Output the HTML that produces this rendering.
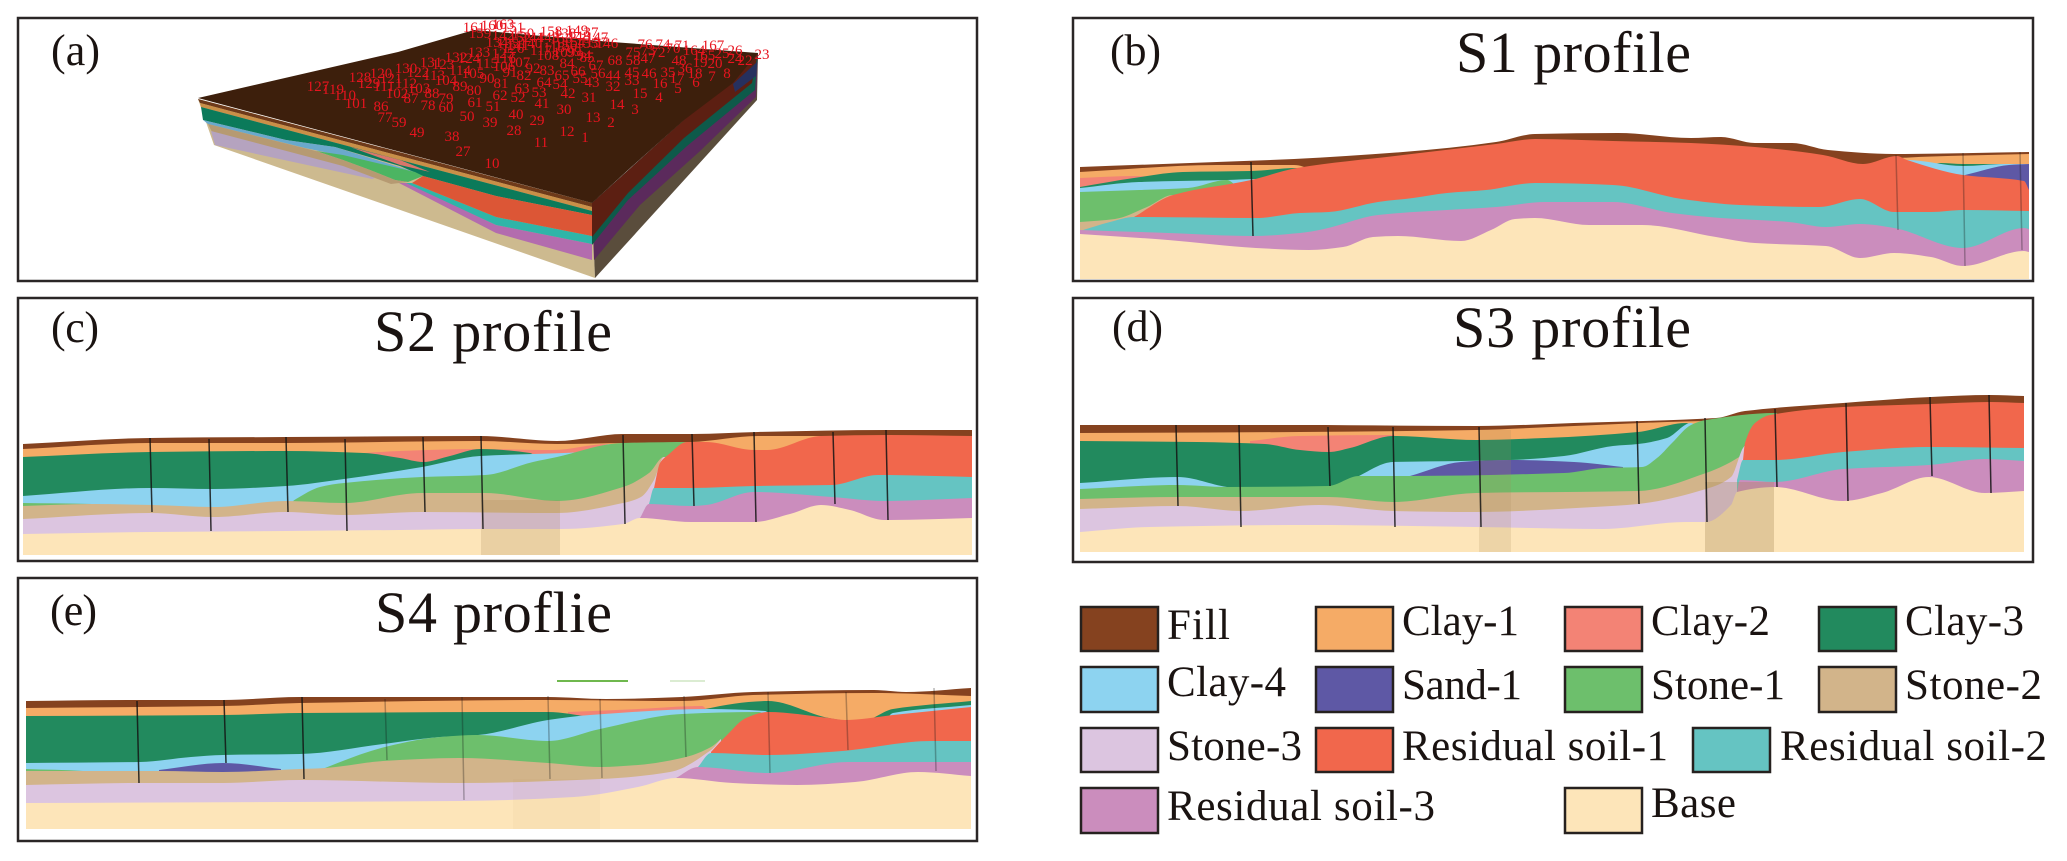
<!DOCTYPE html>
<html lang="en">
<head>
<meta charset="utf-8">
<title>Geological model and profiles</title>
<style>
html,body{margin:0;padding:0;background:#fff;width:2067px;height:861px;overflow:hidden}
svg{display:block}
text{font-family:"Liberation Serif",serif;fill:#1a1311}
.num text{fill:#e8141f;font-size:15px;text-anchor:middle}
.frame{fill:none;stroke:#2a2626;stroke-width:2.5}
.swatch{stroke:#26211f;stroke-width:2.5}
.legend-text{font-size:43px}
.panel-label{font-size:44px}
.title{font-size:58px}
</style>
</head>
<body>
<svg id="figure" xmlns="http://www.w3.org/2000/svg" width="2067" height="861" viewBox="0 0 2067 861">
<rect x="0" y="0" width="2067" height="861" fill="#fff"/>

<g>
<polygon fill="#cdba8f" points="198,99 592,203 595,278 214,145"/>
<polygon fill="#5a4d3c" points="592,203 758,53 757,100 595,278"/>
<polygon fill="#5b2a5c" points="592,203 758,53 756,97 699,152 640,205 594,260"/>
<polygon fill="#0e5a4a" points="592,203 758,53 755,90 687,146 628,200 592,245"/>
<polygon fill="#5c1f12" points="592,203 758,53 752,83 684,138 628,193 592,237"/>
<polygon fill="#6e3a1a" points="198,99 592,203 592,207 200,103"/>
<polygon fill="#c98f48" points="200,103 592,207 592,211 201,107"/>
<polygon fill="#0b7a5a" points="201,107 592,211 592,215 496,196 423,176 400,166 335,147 286,140 203,120"/>
<polygon fill="#6aa9cc" points="203,120 286,140 335,147 415,172 343,156 305,148 208,124"/>
<polygon fill="#d9766a" points="350,147 400,160 430,172 400,165"/>
<polygon fill="#4cb562" points="316,151 343,155 415,172 423,176 408,182 395,180 370,170 343,160"/>
<polygon fill="#b69a72" points="208,124 316,151 343,160 370,170 395,180 408,182 391,184 375,178 343,168 213,134"/>
<polygon fill="#b5a3bf" points="211,131 343,166 375,178 372,179 215,145"/>
<polygon fill="#b36cae" points="399,183 408,183 496,225 592,244 592,260 496,233"/>
<polygon fill="#2fb5a8" points="406,183 412,183 496,217 592,236 592,244 496,225"/>
<polygon fill="#dc5636" points="412,183 423,176 496,196 592,215 592,236 496,217"/>
<polygon fill="#3d1f0c" points="198,98 398,52 474,30 612,42 758,53 733,83 684,120 628,170 592,203"/>
<polygon fill="#26305e" points="733,84 757,62 756,76 735,92"/>
<g class="num">
<text x="492" y="168">10</text>
<text x="463" y="156">27</text>
<text x="452" y="141">38</text>
<text x="417" y="137">49</text>
<text x="399" y="127">59</text>
<text x="385" y="122">77</text>
<text x="381" y="111">86</text>
<text x="356" y="108">101</text>
<text x="345" y="100">110</text>
<text x="333" y="94">119</text>
<text x="318" y="91">127</text>
<text x="360" y="82">128</text>
<text x="369" y="88">129</text>
<text x="384" y="91">111</text>
<text x="381" y="78">120</text>
<text x="391" y="83">121</text>
<text x="406" y="88">112</text>
<text x="397" y="98">102</text>
<text x="411" y="103">87</text>
<text x="419" y="93">103</text>
<text x="432" y="98">88</text>
<text x="428" y="110">78</text>
<text x="446" y="112">60</text>
<text x="446" y="103">79</text>
<text x="460" y="91">89</text>
<text x="474" y="95">80</text>
<text x="475" y="107">61</text>
<text x="467" y="121">50</text>
<text x="493" y="111">51</text>
<text x="500" y="100">62</text>
<text x="490" y="127">39</text>
<text x="514" y="135">28</text>
<text x="516" y="119">40</text>
<text x="518" y="102">52</text>
<text x="522" y="93">63</text>
<text x="501" y="88">81</text>
<text x="487" y="83">90</text>
<text x="446" y="85">104</text>
<text x="434" y="80">113</text>
<text x="418" y="77">122</text>
<text x="406" y="73">130</text>
<text x="473" y="78">105</text>
<text x="460" y="75">114</text>
<text x="443" y="69">123</text>
<text x="431" y="67">131</text>
<text x="456" y="62">132</text>
<text x="469" y="63">124</text>
<text x="479" y="57">133</text>
<text x="487" y="68">115</text>
<text x="504" y="71">106</text>
<text x="510" y="77">91</text>
<text x="524" y="80">82</text>
<text x="539" y="97">53</text>
<text x="542" y="108">41</text>
<text x="537" y="125">29</text>
<text x="541" y="147">11</text>
<text x="567" y="136">12</text>
<text x="585" y="142">1</text>
<text x="593" y="122">13</text>
<text x="611" y="127">2</text>
<text x="635" y="114">3</text>
<text x="617" y="109">14</text>
<text x="564" y="114">30</text>
<text x="568" y="98">42</text>
<text x="589" y="102">31</text>
<text x="640" y="98">15</text>
<text x="659" y="102">4</text>
<text x="544" y="87">64</text>
<text x="560" y="89">54</text>
<text x="562" y="80">65</text>
<text x="580" y="83">55</text>
<text x="592" y="87">43</text>
<text x="613" y="91">32</text>
<text x="632" y="85">33</text>
<text x="660" y="88">16</text>
<text x="678" y="93">5</text>
<text x="547" y="75">83</text>
<text x="533" y="73">92</text>
<text x="519" y="67">107</text>
<text x="505" y="63">116</text>
<text x="567" y="68">84</text>
<text x="578" y="76">66</text>
<text x="598" y="78">56</text>
<text x="596" y="70">67</text>
<text x="613" y="80">44</text>
<text x="632" y="77">45</text>
<text x="649" y="78">46</text>
<text x="668" y="77">35</text>
<text x="677" y="83">17</text>
<text x="695" y="78">18</text>
<text x="696" y="87">6</text>
<text x="712" y="81">7</text>
<text x="727" y="78">8</text>
<text x="685" y="73">36</text>
<text x="762" y="59">23</text>
<text x="735" y="55">26</text>
<text x="713" y="50">167</text>
<text x="682" y="50">71</text>
<text x="645" y="49">76</text>
<text x="663" y="49">74</text>
<text x="474" y="32">161</text>
<text x="492" y="30">160</text>
<text x="503" y="29">163</text>
<text x="513" y="32">151</text>
<text x="523" y="38">150</text>
<text x="551" y="36">158</text>
<text x="565" y="38">138</text>
<text x="577" y="35">149</text>
<text x="591" y="37">37</text>
<text x="480" y="38">159</text>
<text x="503" y="40">142</text>
<text x="520" y="42">152</text>
<text x="533" y="42">144</text>
<text x="548" y="42">143</text>
<text x="561" y="43">153</text>
<text x="579" y="41">148</text>
<text x="597" y="42">147</text>
<text x="607" y="48">146</text>
<text x="497" y="47">134</text>
<text x="508" y="48">135</text>
<text x="518" y="50">141</text>
<text x="531" y="48">140</text>
<text x="574" y="47">154</text>
<text x="587" y="48">155</text>
<text x="566" y="50">156</text>
<text x="597" y="47">157</text>
<text x="541" y="55">117</text>
<text x="554" y="52">118</text>
<text x="548" y="60">108</text>
<text x="564" y="57">109</text>
<text x="574" y="56">99</text>
<text x="584" y="60">94</text>
<text x="587" y="62">85</text>
<text x="503" y="58">125</text>
<text x="513" y="53">126</text>
<text x="633" y="57">75</text>
<text x="633" y="65">58</text>
<text x="615" y="65">68</text>
<text x="648" y="63">47</text>
<text x="679" y="65">48</text>
<text x="673" y="53">70</text>
<text x="658" y="57">72</text>
<text x="648" y="55">73</text>
<text x="735" y="63">24</text>
<text x="722" y="58">25</text>
<text x="704" y="60">165</text>
<text x="694" y="55">164</text>
<text x="700" y="67">19</text>
<text x="715" y="68">20</text>
<text x="745" y="65">22</text>
</g>
</g>

<g id="s1-plot"></g>
<g id="s2-plot"></g>
<g id="s3-plot"></g>
<g id="s4-plot"></g>

<line x1="557" y1="681" x2="628" y2="681" stroke="#6fb84e" stroke-width="2"/>
<line x1="670" y1="681" x2="705" y2="681" stroke="#cfe6c4" stroke-width="1.5"/>

<rect class="frame" x="18" y="18" width="959" height="263"/>
<rect class="frame" x="1073" y="18" width="960" height="263"/>
<rect class="frame" x="18" y="298" width="959" height="263"/>
<rect class="frame" x="1073" y="298" width="960" height="264"/>
<rect class="frame" x="18" y="578" width="959" height="263"/>

<text class="panel-label" x="51" y="65" textLength="49">(a)</text>
<text class="panel-label" x="1110" y="65" textLength="51">(b)</text>
<text class="panel-label" x="51" y="342" textLength="48">(c)</text>
<text class="panel-label" x="1112" y="341" textLength="51">(d)</text>
<text class="panel-label" x="50" y="625" textLength="47">(e)</text>

<text class="title" x="1456" y="72" textLength="235">S1 profile</text>
<text class="title" x="374" y="351" textLength="238">S2 profile</text>
<text class="title" x="1453" y="347" textLength="238">S3 profile</text>
<text class="title" x="375" y="632" textLength="237">S4 proflie</text>

<g>
<g><rect class="swatch" x="1081" y="607" width="77" height="44" fill="#85421f"/><text class="legend-text" x="1167" y="639" textLength="63">Fill</text></g>
<g><rect class="swatch" x="1316" y="607" width="77" height="44" fill="#f5ab66"/><text class="legend-text" x="1402" y="635" textLength="117">Clay-1</text></g>
<g><rect class="swatch" x="1565" y="607" width="77" height="44" fill="#f38375"/><text class="legend-text" x="1651" y="635" textLength="119">Clay-2</text></g>
<g><rect class="swatch" x="1819" y="607" width="77" height="44" fill="#228a5e"/><text class="legend-text" x="1905" y="635" textLength="119">Clay-3</text></g>
<g><rect class="swatch" x="1081" y="667" width="77" height="45" fill="#8dd3f0"/><text class="legend-text" x="1167" y="696" textLength="119">Clay-4</text></g>
<g><rect class="swatch" x="1316" y="667" width="77" height="45" fill="#5e58a5"/><text class="legend-text" x="1402" y="699" textLength="120">Sand-1</text></g>
<g><rect class="swatch" x="1565" y="667" width="77" height="45" fill="#6dbf6c"/><text class="legend-text" x="1651" y="699" textLength="134">Stone-1</text></g>
<g><rect class="swatch" x="1819" y="667" width="77" height="45" fill="#d2b48a"/><text class="legend-text" x="1905" y="699" textLength="137">Stone-2</text></g>
<g><rect class="swatch" x="1081" y="728" width="77" height="44" fill="#dcc5e0"/><text class="legend-text" x="1167" y="760" textLength="135">Stone-3</text></g>
<g><rect class="swatch" x="1316" y="728" width="77" height="44" fill="#f1674c"/><text class="legend-text" x="1402" y="760" textLength="266">Residual soil-1</text></g>
<g><rect class="swatch" x="1693" y="728" width="77" height="44" fill="#65c4c2"/><text class="legend-text" x="1780" y="760" textLength="267">Residual soil-2</text></g>
<g><rect class="swatch" x="1081" y="788" width="77" height="45" fill="#cb8dbd"/><text class="legend-text" x="1167" y="820" textLength="268">Residual soil-3</text></g>
<g><rect class="swatch" x="1565" y="788" width="77" height="45" fill="#fde5b9"/><text class="legend-text" x="1651" y="817" textLength="85">Base</text></g>
</g>
</svg>

<script>
/* ---------- S1 profile: distance along section and top-of-layer elevation ---------- */
const s1FillDist=[0,137,214,323,416,455,538,611,641,675,712,748,814,949];
const s1FillElev=[113,118,121,128,138,146,147,142,143,137,137,130,126,128];
const s1Clay1Dist=[0,137,214,250,800,820,949];
const s1Clay1Elev=[108,115,115,105,105,122,126];
const s1Clay2Dist=[0,54,100];
const s1Clay2Elev=[102,104,100];
const s1Clay3Dist=[0,54,103,171,217,250,820,860,883,924,940];
const s1Clay3Elev=[93,102,108,109,112,90,90,117,116,116,105];
const s1Clay4Dist=[0,59,147,176,210,800,827,883,924,949];
const s1Clay4Elev=[92,98,100,101,90,90,120,114,116,116];
const s1Sand1Dist=[885,929,949];
const s1Sand1Elev=[105,115,116];
const s1Stone1Dist=[0,59,108,147,160];
const s1Stone1Elev=[88,90,92,100,90];
const s1Stone2Dist=[0,35,67,93,110];
const s1Stone2Elev=[58,61,73,85,80];
const s1Res1Dist=[54,93,171,217,323,416,455,533,611,675,743,783,817,827,883,944,949];
const s1Res1Elev=[63,85,100,112,125,136,141,139,137,133,125,116,124,120,105,99,90];
const s1Res2Dist=[0,30,54,176,220,249,298,333,367,406,455,533,602,660,739,780,814,851,883,949];
const s1Res2Elev=[49,58,63,62,67,68,78,82,87,90,97,95,81,75,73,81,68,68,70,69];
const s1Res3Dist=[0,88,173,220,244,298,367,416,465,533,592,641,709,746,780,814,883,944,949];
const s1Res3Elev=[50,47,44,47,51,65,70,73,78,78,67,62,58,53,56,52,32,52,51];
const s1BaseDist=[0,88,176,229,263,293,318,381,411,435,455,509,562,636,675,746,780,814,851,883,944,949];
const s1BaseElev=[46,40,32,30,33,43,44,39,50,61,62,55,55,43,37,34,22,27,23,14,29,28];
const s1WellDist=[171,816,883,940];
const s1WellTop=[118,125,127,128];
const s1WellBottom=[44,50,14,30];

/* ---------- S2 profile ---------- */
const s2FillDist=[0,127,263,457,534,600,670,735,865,949];
const s2FillElev=[111,117,118,119,114,121,121,123,125,125];
const s2Clay1Dist=[0,127,263,457,534,600,668,735,809,827,949];
const s2Clay1Elev=[106,112,112,114,111,112,113,119,119,110,110];
const s2Clay2Dist=[341,377,457,530,584,592];
const s2Clay2Elev=[102,104,106,105,111,100];
const s2Clay3Dist=[0,127,263,341,377,400,427,457,507,517];
const s2Clay3Elev=[98,103,104,102,97,93,99,106,102,95];
const s2Clay4Dist=[0,127,190,263,321,399,457,510,559,588,602];
const s2Clay4Elev=[59,67,66,69,76,88,99,101,103,111,105];
const s2Stone1Dist=[0,69,127,257,273,297,321,399,462,510,534,588,600,668,677];
const s2Stone1Elev=[52,51,45,45,56,68,72,78,80,93,98,111,112,113,105];
const s2Stone2Dist=[0,69,130,190,263,321,399,462,534,600,626,641,647];
const s2Stone2Elev=[49,51,50,48,54,52,62,62,54,68,82,98,95];
const s2Stone3Dist=[0,127,190,263,321,399,534,600,618,631,641,647];
const s2Stone3Elev=[36,42,38,43,40,43,42,52,58,75,98,95];
const s2Res1Dist=[631,637,645,664,683,731,744,798,865,949];
const s2Res1Elev=[67,92,100,113,113,105,105,119,120,119];
const s2Res2Dist=[626,631,668,731,809,855,949];
const s2Res2Elev=[51,67,67,69,70,80,78];
const s2Res3Dist=[617,626,668,683,731,809,861,949];
const s2Res3Elev=[37,51,49,50,63,58,54,57];
const s2BaseDist=[0,127,263,377,457,538,600,617,668,731,767,798,827,861,949];
const s2BaseElev=[21,23,24,25,26,26,31,37,33,33,41,50,45,35,37];
const s2WellDist=[127,186,263,322,400,458,600,669,731,810,863];
const s2WellTop=[117,116,118,116,118,119,120,121,123,123,125];
const s2WellBottom=[43,24,43,24,43,26,31,49,33,51,35];

/* ---------- S3 profile ---------- */
const s3FillDist=[0,220,396,494,636,665,763,851,910,944];
const s3FillElev=[127,127,126,129,134,141,149,155,157,156];
const s3Clay1Dist=[0,220,396,494,636,645];
const s3Clay1Elev=[119,120,122,126,131,124];
const s3Clay2Dist=[170,220,313,320];
const s3Clay2Elev=[111,116,117,112];
const s3Clay3Dist=[0,117,185,220,249,270,313,396,465,558,606,620];
const s3Clay3Elev=[111,110,108,102,100,104,116,112,114,120,129,122];
const s3Clay4Dist=[0,98,147,220,249,279,313,381,430,484,533,558,587,611,620];
const s3Clay4Elev=[69,75,65,57,57,76,90,91,92,96,106,108,114,129,122];
const s3Sand1Dist=[330,381,430,494,543];
const s3Sand1Elev=[76,90,92,90,85];
const s3Stone1Dist=[0,98,147,248,279,328,484,523,562,577,592,611,626,695,705];
const s3Stone1Elev=[63,67,65,66,76,76,79,84,85,94,109,127,132,139,132];
const s3Stone2Dist=[0,98,161,249,313,396,558,626,665,680,690];
const s3Stone2Elev=[53,55,55,55,50,59,61,79,99,117,122];
const s3Stone3Dist=[0,98,161,239,313,396,514,558,626,651,663,670];
const s3Stone3Elev=[43,46,41,47,41,40,45,48,63,75,104,112];
const s3Res1Dist=[663,665,675,690,763,851,910,944];
const s3Res1Elev=[92,109,129,137,145,148,150,149];
const s3Res2Dist=[657,663,695,763,849,944];
const s3Res2Elev=[72,92,92,100,105,104];
const s3Res3Dist=[657,660,695,763,849,905,944];
const s3Res3Elev=[60,72,70,83,87,93,91];
const s3BaseDist=[0,69,229,396,523,606,626,651,657,695,763,802,849,905,944];
const s3BaseElev=[20,25,27,25,23,30,30,47,60,65,51,59,75,59,61];
const s3WellDist=[96,159,248,313,399,557,625,695,766,850,909];
const s3WellTop=[127,127,125,125,125,131,134,143,149,155,157];
const s3WellBottom=[46,25,66,25,25,48,30,65,51,76,59];

/* ---------- S4 profile ---------- */
const s4FillDist=[0,114,197,274,522,580,656,727,848,880,945];
const s4FillElev=[128,129,129,132,132,130,132,137,139,137,141];
const s4Clay1Dist=[0,197,274,522,656,727,848,945];
const s4Clay1Elev=[121,123,126,129,128,134,136,133];
const s4Clay2Dist=[542,612,676,684];
const s4Clay2Elev=[117,120,123,114];
const s4Clay3Dist=[0,197,274,522,564,584,669,679,742,803,834,867,945];
const s4Clay3Elev=[113,114,116,117,112,109,114,120,128,111,107,120,128];
const s4Clay4Dist=[0,114,165,197,274,357,414,452,522,564,682,739,749,854,867,945];
const s4Clay4Elev=[66,67,72,74,75,85,92,94,109,114,120,118,109,104,116,124];
const s4Sand1Dist=[133,197,255];
const s4Sand1Elev=[59,66,60];
const s4Stone1Dist=[0,57,84,274,299,363,414,452,522,574,656,733,744];
const s4Stone1Elev=[60,58,49,49,61,83,92,94,88,100,115,117,109];
const s4Stone2Dist=[0,133,197,274,299,357,433,522,574,612,660,685,695];
const s4Stone2Elev=[58,58,57,60,61,68,71,66,62,64,72,82,90];
const s4Stone3Dist=[0,114,197,274,433,574,644,685,695];
const s4Stone3Elev=[44,46,46,49,46,50,57,79,90];
const s4Res1Dist=[685,701,720,742,803,819,867,945];
const s4Res1Elev=[77,94,111,117,111,109,114,122];
const s4Res2Dist=[672,685,742,816,905,945];
const s4Res2Elev=[62,76,74,78,88,88];
const s4Res3Dist=[650,672,742,822,905,945];
const s4Res3Elev=[51,62,56,67,67,67];
const s4BaseDist=[0,433,548,612,650,707,771,829,892,945];
const s4BaseElev=[26,28,32,42,51,46,44,47,57,53];
const s4WellDist=[111,198,276,359,436,522,574,658,742,820,908];
const s4WellTop=[128,129,132,130,132,133,130,133,137,137,141];
const s4WellBottom=[46,66,50,69,29,50,51,72,56,79,58];

/* ---------- layer colours ---------- */
const layerColors={fill:'#85421f','clay-1':'#f5ab66','clay-2':'#f38375','clay-3':'#228a5e','clay-4':'#8dd3f0','sand-1':'#5e58a5','stone-1':'#6dbf6c','stone-2':'#d2b48a','stone-3':'#dcc5e0','residual-soil-1':'#f1674c','residual-soil-2':'#65c4c2','residual-soil-3':'#cb8dbd',base:'#fde5b9'};

const NS='http://www.w3.org/2000/svg';

function xAxis(frame,dist){return frame.left+dist;}
function yAxis(frame,elev){return frame.bottom-elev;}

/* monotone cubic through a boundary: smooth curves without overshoot at pinch-outs */
function boundaryCurve(xs,ys){
  const n=xs.length, sec=[], tan=[];
  for(let i=0;i<n-1;i++){sec.push((ys[i+1]-ys[i])/(xs[i+1]-xs[i]));}
  for(let i=0;i<n;i++){
    if(i===0){tan.push(sec[0]);}
    else if(i===n-1){tan.push(sec[n-2]);}
    else if(sec[i-1]*sec[i]<=0){tan.push(0);}
    else{tan.push(2*sec[i-1]*sec[i]/(sec[i-1]+sec[i]));}
  }
  let d='';
  for(let i=0;i<n-1;i++){
    const h=(xs[i+1]-xs[i])/3;
    d+=' C'+(xs[i]+h).toFixed(1)+','+(ys[i]+tan[i]*h).toFixed(1)+' '+(xs[i+1]-h).toFixed(1)+','+(ys[i+1]-tan[i+1]*h).toFixed(1)+' '+xs[i+1].toFixed(1)+','+ys[i+1].toFixed(1);
  }
  return d;
}

function drawLayer(group,frame,key,dist,elev){
  const xs=dist.map(function(v){return xAxis(frame,v);});
  const ys=elev.map(function(v){return yAxis(frame,v);});
  const floorY=yAxis(frame,frame.floor);
  const d='M'+xs[0]+','+floorY+' L'+xs[0]+','+ys[0]+boundaryCurve(xs,ys)+' L'+xs[xs.length-1]+','+floorY+' Z';
  const el=document.createElementNS(NS,'path');
  
  
  el.setAttribute('d',d);
  el.setAttribute('fill',layerColors[key]);
  group.appendChild(el);
}

function drawWells(group,frame,dist,top,bottom){
  for(let i=0;i<dist.length;i++){
    const el=document.createElementNS(NS,'line');
    
    
    el.setAttribute('x1',xAxis(frame,dist[i]));
    el.setAttribute('y1',yAxis(frame,top[i]));
    el.setAttribute('x2',xAxis(frame,dist[i])+2);
    el.setAttribute('y2',yAxis(frame,bottom[i]));
    el.setAttribute('stroke','#141414');
    el.setAttribute('stroke-width','1.5');
    el.setAttribute('stroke-opacity',i<frame.darkWells?'0.85':'0.3');
    group.appendChild(el);
  }
}

function drawShade(group,frame,d0,d1,elevTop,alpha){
  const el=document.createElementNS(NS,'rect');
  
  
  el.setAttribute('x',xAxis(frame,d0));
  el.setAttribute('y',yAxis(frame,elevTop));
  el.setAttribute('width',d1-d0);
  el.setAttribute('height',elevTop-frame.floor);
  el.setAttribute('fill','#a88a58');
  el.setAttribute('fill-opacity',alpha);
  group.appendChild(el);
}

const s1Frame={name:'s1',left:1080,bottom:280,floor:1,darkWells:1};
const s2Frame={name:'s2',left:23,bottom:555,floor:0,darkWells:11};
const s3Frame={name:'s3',left:1080,bottom:552,floor:0,darkWells:11};
const s4Frame={name:'s4',left:26,bottom:829,floor:0,darkWells:3};

const s1Group=document.getElementById('s1-plot');
drawLayer(s1Group,s1Frame,'fill',s1FillDist,s1FillElev);
drawLayer(s1Group,s1Frame,'clay-1',s1Clay1Dist,s1Clay1Elev);
drawLayer(s1Group,s1Frame,'clay-2',s1Clay2Dist,s1Clay2Elev);
drawLayer(s1Group,s1Frame,'clay-3',s1Clay3Dist,s1Clay3Elev);
drawLayer(s1Group,s1Frame,'clay-4',s1Clay4Dist,s1Clay4Elev);
drawLayer(s1Group,s1Frame,'sand-1',s1Sand1Dist,s1Sand1Elev);
drawLayer(s1Group,s1Frame,'stone-1',s1Stone1Dist,s1Stone1Elev);
drawLayer(s1Group,s1Frame,'stone-2',s1Stone2Dist,s1Stone2Elev);
drawLayer(s1Group,s1Frame,'residual-soil-1',s1Res1Dist,s1Res1Elev);
drawLayer(s1Group,s1Frame,'residual-soil-2',s1Res2Dist,s1Res2Elev);
drawLayer(s1Group,s1Frame,'residual-soil-3',s1Res3Dist,s1Res3Elev);
drawLayer(s1Group,s1Frame,'base',s1BaseDist,s1BaseElev);
drawWells(s1Group,s1Frame,s1WellDist,s1WellTop,s1WellBottom);

const s2Group=document.getElementById('s2-plot');
drawLayer(s2Group,s2Frame,'fill',s2FillDist,s2FillElev);
drawLayer(s2Group,s2Frame,'clay-1',s2Clay1Dist,s2Clay1Elev);
drawLayer(s2Group,s2Frame,'clay-2',s2Clay2Dist,s2Clay2Elev);
drawLayer(s2Group,s2Frame,'clay-3',s2Clay3Dist,s2Clay3Elev);
drawLayer(s2Group,s2Frame,'clay-4',s2Clay4Dist,s2Clay4Elev);
drawLayer(s2Group,s2Frame,'stone-1',s2Stone1Dist,s2Stone1Elev);
drawLayer(s2Group,s2Frame,'stone-2',s2Stone2Dist,s2Stone2Elev);
drawLayer(s2Group,s2Frame,'stone-3',s2Stone3Dist,s2Stone3Elev);
drawLayer(s2Group,s2Frame,'residual-soil-1',s2Res1Dist,s2Res1Elev);
drawLayer(s2Group,s2Frame,'residual-soil-2',s2Res2Dist,s2Res2Elev);
drawLayer(s2Group,s2Frame,'residual-soil-3',s2Res3Dist,s2Res3Elev);
drawLayer(s2Group,s2Frame,'base',s2BaseDist,s2BaseElev);
drawShade(s2Group,s2Frame,458,537,55,0.22);
drawWells(s2Group,s2Frame,s2WellDist,s2WellTop,s2WellBottom);

const s3Group=document.getElementById('s3-plot');
drawLayer(s3Group,s3Frame,'fill',s3FillDist,s3FillElev);
drawLayer(s3Group,s3Frame,'clay-1',s3Clay1Dist,s3Clay1Elev);
drawLayer(s3Group,s3Frame,'clay-2',s3Clay2Dist,s3Clay2Elev);
drawLayer(s3Group,s3Frame,'clay-3',s3Clay3Dist,s3Clay3Elev);
drawLayer(s3Group,s3Frame,'clay-4',s3Clay4Dist,s3Clay4Elev);
drawLayer(s3Group,s3Frame,'sand-1',s3Sand1Dist,s3Sand1Elev);
drawLayer(s3Group,s3Frame,'stone-1',s3Stone1Dist,s3Stone1Elev);
drawLayer(s3Group,s3Frame,'stone-2',s3Stone2Dist,s3Stone2Elev);
drawLayer(s3Group,s3Frame,'stone-3',s3Stone3Dist,s3Stone3Elev);
drawLayer(s3Group,s3Frame,'residual-soil-1',s3Res1Dist,s3Res1Elev);
drawLayer(s3Group,s3Frame,'residual-soil-2',s3Res2Dist,s3Res2Elev);
drawLayer(s3Group,s3Frame,'residual-soil-3',s3Res3Dist,s3Res3Elev);
drawLayer(s3Group,s3Frame,'base',s3BaseDist,s3BaseElev);
drawShade(s3Group,s3Frame,399,431,122,0.18);
drawShade(s3Group,s3Frame,625,694,70,0.32);
drawWells(s3Group,s3Frame,s3WellDist,s3WellTop,s3WellBottom);

const s4Group=document.getElementById('s4-plot');
drawLayer(s4Group,s4Frame,'fill',s4FillDist,s4FillElev);
drawLayer(s4Group,s4Frame,'clay-1',s4Clay1Dist,s4Clay1Elev);
drawLayer(s4Group,s4Frame,'clay-2',s4Clay2Dist,s4Clay2Elev);
drawLayer(s4Group,s4Frame,'clay-3',s4Clay3Dist,s4Clay3Elev);
drawLayer(s4Group,s4Frame,'clay-4',s4Clay4Dist,s4Clay4Elev);
drawLayer(s4Group,s4Frame,'sand-1',s4Sand1Dist,s4Sand1Elev);
drawLayer(s4Group,s4Frame,'stone-1',s4Stone1Dist,s4Stone1Elev);
drawLayer(s4Group,s4Frame,'stone-2',s4Stone2Dist,s4Stone2Elev);
drawLayer(s4Group,s4Frame,'stone-3',s4Stone3Dist,s4Stone3Elev);
drawLayer(s4Group,s4Frame,'residual-soil-1',s4Res1Dist,s4Res1Elev);
drawLayer(s4Group,s4Frame,'residual-soil-2',s4Res2Dist,s4Res2Elev);
drawLayer(s4Group,s4Frame,'residual-soil-3',s4Res3Dist,s4Res3Elev);
drawLayer(s4Group,s4Frame,'base',s4BaseDist,s4BaseElev);
drawShade(s4Group,s4Frame,487,574,50,0.05);
drawWells(s4Group,s4Frame,s4WellDist,s4WellTop,s4WellBottom);
</script>
</body>
</html>
